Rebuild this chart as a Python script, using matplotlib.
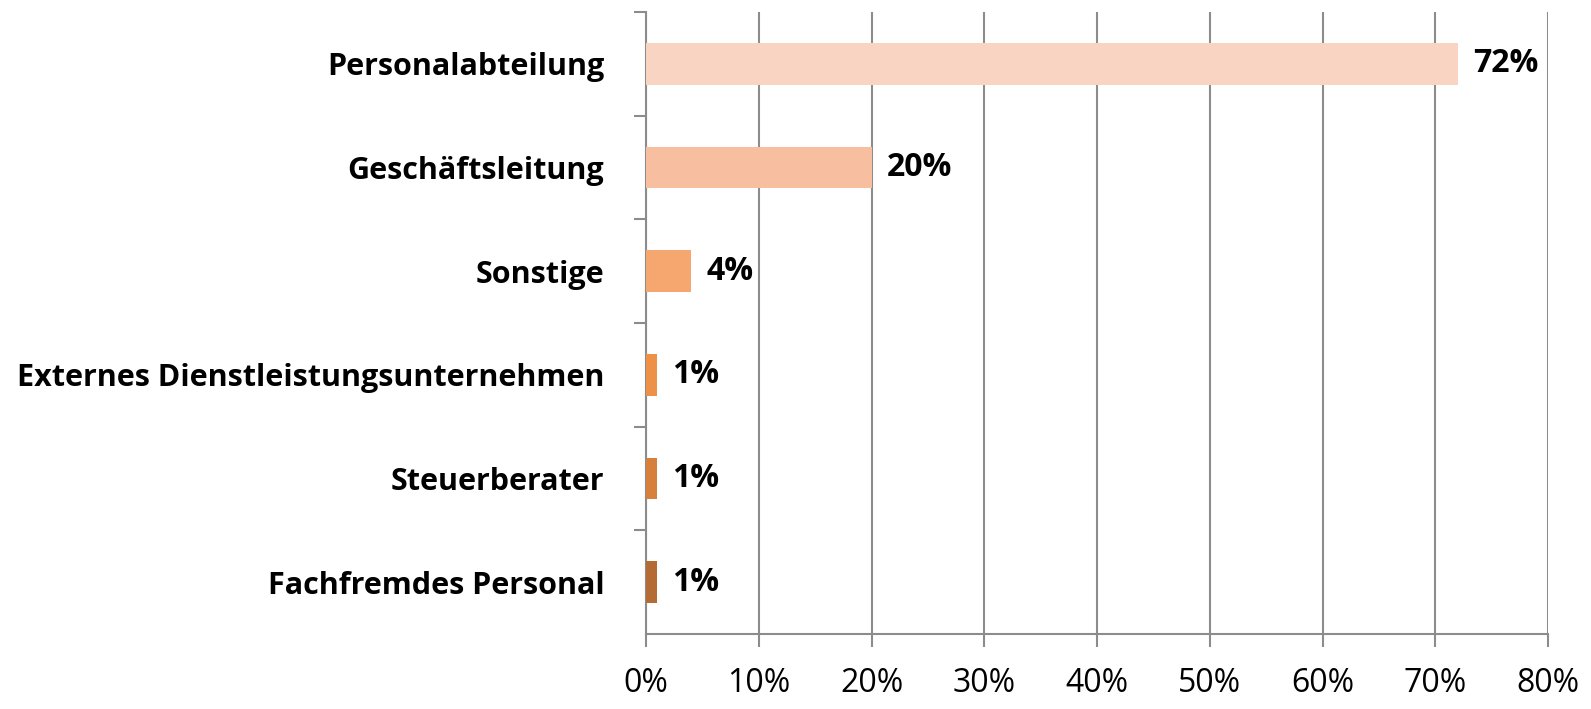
import matplotlib
matplotlib.use("Agg")
import matplotlib.pyplot as plt
from matplotlib.ticker import MultipleLocator, PercentFormatter

plt.rcParams['font.family'] = ['Open Sans', 'DejaVu Sans']

categories = ["Personalabteilung", "Geschäftsleitung", "Sonstige",
              "Externes Dienstleistungsunternehmen", "Steuerberater",
              "Fachfremdes Personal"]
values = [72, 20, 4, 1, 1, 1]
value_labels = ["72%", "20%", "4%", "1%", "1%", "1%"]
bar_colors = ["#F9D4C2", "#F7BEA0", "#F6A76F", "#EE9148", "#D6803C", "#B46C34"]

grid_col = "#8C8C8C"

fig = plt.figure(figsize=(15.91, 7.09), dpi=100)
ax = fig.add_axes([646 / 1591, 1 - 634 / 709, (1548 - 646) / 1591, (634 - 12) / 709])

pos = list(range(len(categories)))[::-1]
ax.barh(pos, values, height=0.405, color=bar_colors, zorder=3)

for p, v, lab in zip(pos, values, value_labels):
    ax.annotate(lab, (v, p), xytext=(11, 0), textcoords="offset points",
                va="center", ha="left", fontsize=23, fontweight="bold", color="black")

ax.set_xlim(0, 80)
ax.set_ylim(-0.5, len(categories) - 0.5)
ax.xaxis.set_major_locator(MultipleLocator(10))
ax.xaxis.set_major_formatter(PercentFormatter(decimals=0))
ax.set_yticks([p + 0.5 for p in pos])
ax.set_yticks(pos, minor=True)
ax.set_yticklabels([])
ax.set_yticklabels(categories, minor=True, fontsize=22, fontweight="bold")
ax.tick_params(axis="y", which="minor", length=0, pad=30)
ax.tick_params(axis="y", which="major", length=9, width=1.5, color=grid_col)
ax.tick_params(axis="x", length=9, width=1.5, color=grid_col, labelsize=23, pad=15)

ax.grid(axis="x", color=grid_col, linewidth=1.5, zorder=0)
for s in ["top", "right"]:
    ax.spines[s].set_visible(False)
for s in ["left", "bottom"]:
    ax.spines[s].set_color(grid_col)
    ax.spines[s].set_linewidth(1.5)

fig.savefig("out.png", dpi=100)
